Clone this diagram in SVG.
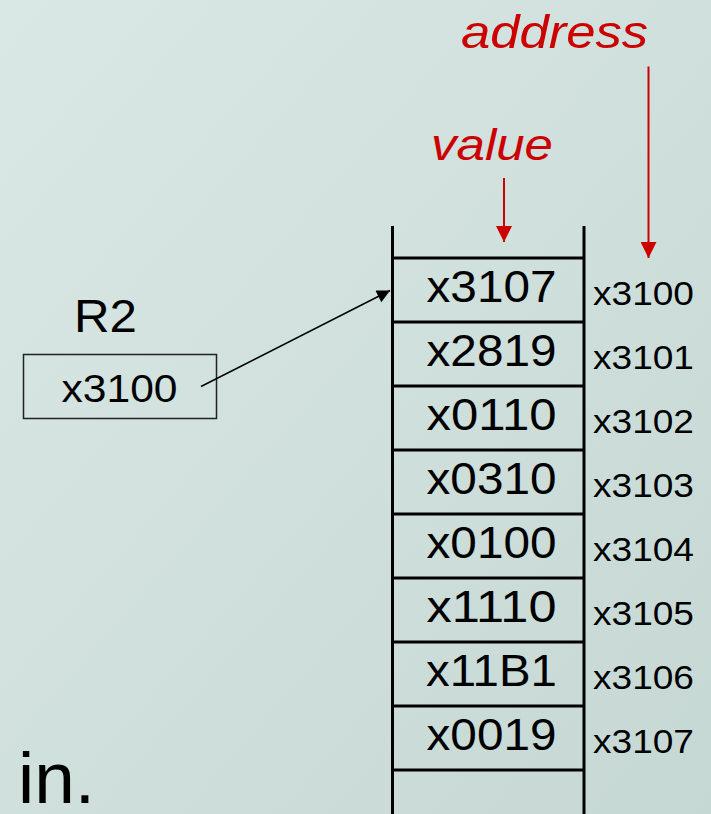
<svg xmlns="http://www.w3.org/2000/svg" width="711" height="814" viewBox="0 0 711 814">
  <defs>
    <linearGradient id="bg" x1="0" y1="0" x2="1" y2="1">
      <stop offset="0" stop-color="#dae8e5"/>
      <stop offset="1" stop-color="#c6d8d4"/>
    </linearGradient>
    <marker id="redArrow" viewBox="0 0 10 10" refX="10" refY="5" markerUnits="userSpaceOnUse" markerWidth="16" markerHeight="16" orient="auto">
      <path d="M0,0 L10,5 L0,10 Z" fill="#cc0000"/>
    </marker>
    <marker id="blackArrow" viewBox="0 0 10 10" refX="10" refY="5" markerUnits="userSpaceOnUse" markerWidth="15" markerHeight="13" orient="auto">
      <path d="M0,0 L10,5 L0,10 Z" fill="#000"/>
    </marker>
  </defs>
  <style>
    .val { font-family: "Liberation Sans", Arial, sans-serif; font-size: 45px; fill: #000; text-anchor: middle; }
    .addr { font-family: "Liberation Sans", Arial, sans-serif; font-size: 33px; fill: #000; }
    .lbl { font-family: "Liberation Sans", Arial, sans-serif; fill: #000; }
    .red { font-family: "Liberation Sans", Arial, sans-serif; font-style: italic; fill: #cc0000; }
    .tbl { stroke: #000; stroke-width: 3; fill: none; }
  </style>
  <rect x="0" y="0" width="711" height="814" fill="url(#bg)"/>

  <g id="memory-table">
    <line class="tbl" x1="392.5" y1="226" x2="392.5" y2="814"/>
    <line class="tbl" x1="584" y1="226" x2="584" y2="814"/>
    <line class="tbl" x1="392" y1="258" x2="584" y2="258"/>
    <line class="tbl" x1="392" y1="322" x2="584" y2="322"/>
    <line class="tbl" x1="392" y1="386" x2="584" y2="386"/>
    <line class="tbl" x1="392" y1="450" x2="584" y2="450"/>
    <line class="tbl" x1="392" y1="514" x2="584" y2="514"/>
    <line class="tbl" x1="392" y1="578" x2="584" y2="578"/>
    <line class="tbl" x1="392" y1="642" x2="584" y2="642"/>
    <line class="tbl" x1="392" y1="706" x2="584" y2="706"/>
    <line class="tbl" x1="392" y1="770" x2="584" y2="770"/>
  </g>

  <g id="values">
    <text class="val" x="491.5" y="301.5" textLength="130" lengthAdjust="spacingAndGlyphs">x3107</text>
    <text class="val" x="491.5" y="365.5" textLength="130" lengthAdjust="spacingAndGlyphs">x2819</text>
    <text class="val" x="491.5" y="429.5" textLength="130" lengthAdjust="spacingAndGlyphs">x0110</text>
    <text class="val" x="491.5" y="493.5" textLength="130" lengthAdjust="spacingAndGlyphs">x0310</text>
    <text class="val" x="491.5" y="557.5" textLength="130" lengthAdjust="spacingAndGlyphs">x0100</text>
    <text class="val" x="491.5" y="621.5" textLength="130" lengthAdjust="spacingAndGlyphs">x1110</text>
    <text class="val" x="491.5" y="685.5" textLength="131" lengthAdjust="spacingAndGlyphs">x11B1</text>
    <text class="val" x="491.5" y="749.5" textLength="130" lengthAdjust="spacingAndGlyphs">x0019</text>
  </g>

  <g id="addresses">
    <text class="addr" x="593" y="305" textLength="101" lengthAdjust="spacingAndGlyphs">x3100</text>
    <text class="addr" x="593" y="369" textLength="101" lengthAdjust="spacingAndGlyphs">x3101</text>
    <text class="addr" x="593" y="433" textLength="101" lengthAdjust="spacingAndGlyphs">x3102</text>
    <text class="addr" x="593" y="497" textLength="101" lengthAdjust="spacingAndGlyphs">x3103</text>
    <text class="addr" x="593" y="561" textLength="101" lengthAdjust="spacingAndGlyphs">x3104</text>
    <text class="addr" x="593" y="625" textLength="101" lengthAdjust="spacingAndGlyphs">x3105</text>
    <text class="addr" x="593" y="689" textLength="101" lengthAdjust="spacingAndGlyphs">x3106</text>
    <text class="addr" x="593" y="753" textLength="101" lengthAdjust="spacingAndGlyphs">x3107</text>
  </g>

  <g id="R2">
    <text class="lbl" x="74" y="331.5" font-size="46" textLength="63" lengthAdjust="spacingAndGlyphs">R2</text>
    <rect x="23.5" y="354.5" width="193" height="64" fill="none" stroke="#222" stroke-width="1.5"/>
    <text class="lbl" x="119.5" y="401.5" font-size="38.5" text-anchor="middle" textLength="116" lengthAdjust="spacingAndGlyphs">x3100</text>
  </g>

  <g id="value-label">
    <text class="red" x="431" y="160" font-size="45" textLength="122" lengthAdjust="spacingAndGlyphs">value</text>
  </g>
  <g id="address-label">
    <text class="red" x="461" y="48.3" font-size="46" textLength="187" lengthAdjust="spacingAndGlyphs">address</text>
  </g>

  <g id="in-text">
    <text class="lbl" x="18" y="803" font-size="72" textLength="77" lengthAdjust="spacingAndGlyphs">in.</text>
  </g>

  <g id="connectors">
    <line x1="504" y1="178" x2="504" y2="242" stroke="#cc0000" stroke-width="2" marker-end="url(#redArrow)"/>
    <line x1="648.5" y1="66.5" x2="648.5" y2="258" stroke="#cc0000" stroke-width="2" marker-end="url(#redArrow)"/>
    <line x1="201" y1="386.5" x2="390" y2="290.5" stroke="#000" stroke-width="1.5" marker-end="url(#blackArrow)"/>
  </g>
</svg>
